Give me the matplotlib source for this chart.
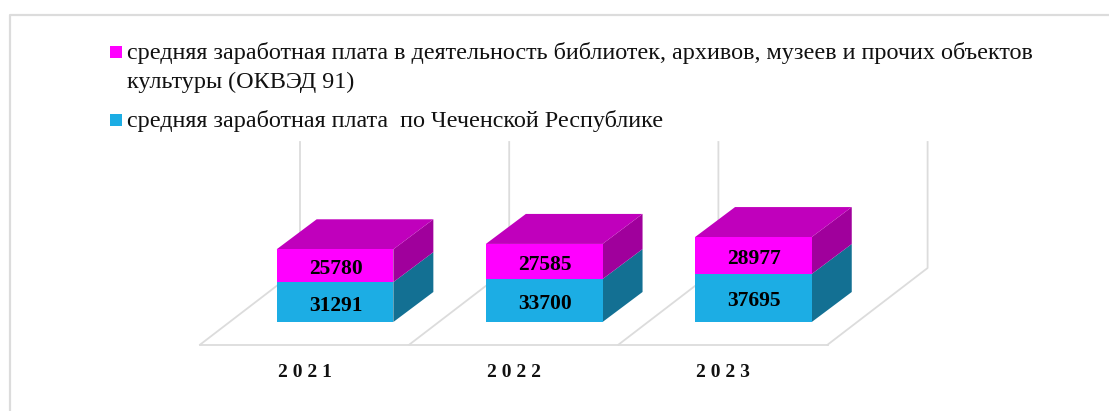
import matplotlib.pyplot as plt
from matplotlib.patches import Polygon

plt.rcParams['font.family'] = ['Liberation Serif', 'DejaVu Sans']

years = ["2021", "2022", "2023"]
zarplata_rk = [31291, 33700, 37695]
zarplata_kultura = [25780, 27585, 28977]
legenda_1 = ["средняя заработная плата в деятельность библиотек, архивов, музеев и прочих объектов",
             "культуры (ОКВЭД 91)"]
legenda_2 = "средняя заработная плата  по Чеченской Республике"

W, H = 1109, 411
ED_PX = 785.0      # rubles per pixel
STEP = 209.2       # pixels between bars
x0_px, y0_px = 335.0, 322.0

fig = plt.figure(figsize=(W / 100, H / 100), dpi=100)

# background in pixel coords: frame, floor, walls, legend
bg = fig.add_axes([0, 0, 1, 1])
bg.set_xlim(0, W)
bg.set_ylim(H, 0)
bg.axis("off")

gris = "#dcdcdc"
bg.plot([9.5, 9.5, W], [H, 15, 15], color=gris, lw=1.6)
bg.plot([200, 828], [344.7, 344.7], color=gris, lw=1.3)
for i in range(4):
    xb = 200 + STEP * i
    bg.plot([xb, xb + 100, xb + 100], [344.7, 268, 142], color=gris, lw=1.3)

bg.add_patch(plt.Rectangle((110, 46), 12, 12, color="#ff00ff", lw=0))
bg.add_patch(plt.Rectangle((110, 114), 12, 12, color="#1cade4", lw=0))
bg.text(127, 53, legenda_1[0], fontsize=17.4, va="center", color="#111111")
bg.text(127, 82, legenda_1[1], fontsize=17.4, va="center", color="#111111")
bg.text(127, 121, legenda_2, fontsize=17.4, va="center", color="#111111")

# bars in real units
ax = fig.add_axes([0, 0, 1, 1])
ax.patch.set_alpha(0)
ax.axis("off")
ax.set_xlim(-x0_px / STEP, (W - x0_px) / STEP)
ax.set_ylim(-(H - y0_px) * ED_PX, y0_px * ED_PX)

pos = list(range(len(years)))
ancho = 116.7 / STEP
dx = 40 / STEP
dy = 30 * ED_PX
baja = 3.5 * ED_PX  # labels sit a bit under the middle of the segment

ax.bar(pos, zarplata_rk, width=ancho, color="#1cade4", lw=0, zorder=3)
ax.bar(pos, zarplata_kultura, bottom=zarplata_rk, width=ancho, color="#ff00ff", lw=0, zorder=3)

for i in pos:
    r = i + ancho / 2
    l = i - ancho / 2
    a = zarplata_rk[i]
    b = a + zarplata_kultura[i]
    ax.add_patch(Polygon([(r, 0), (r + dx, dy), (r + dx, a + dy), (r, a)], color="#137093", lw=0, zorder=2))
    ax.add_patch(Polygon([(r, a), (r + dx, a + dy), (r + dx, b + dy), (r, b)], color="#a0009c", lw=0, zorder=2))
    ax.add_patch(Polygon([(l, b), (r, b), (r + dx, b + dy), (l + dx, b + dy)], color="#c000bc", lw=0, zorder=2))
    ax.text(i + 1 / STEP, a / 2 - baja, str(zarplata_rk[i]), ha="center", va="center",
            fontsize=15.5, fontweight="bold", color="black", zorder=4)
    ax.text(i + 1 / STEP, a + (b - a) / 2 - baja, str(zarplata_kultura[i]), ha="center", va="center",
            fontsize=15.5, fontweight="bold", color="black", zorder=4)
    ax.text(i - 30 / STEP, -50.5 * ED_PX, " ".join(years[i]), ha="center", va="center",
            fontsize=14, fontweight="bold", color="#111111")

plt.savefig("out.png", dpi=100)
